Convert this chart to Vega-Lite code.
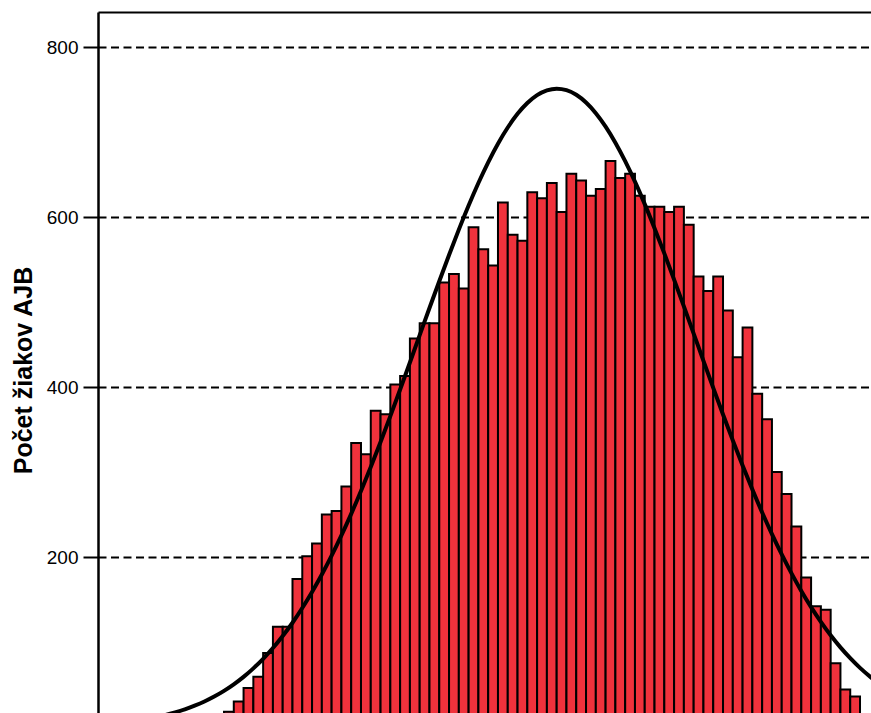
{
  "$schema": "https://vega.github.io/schema/vega-lite/v6.json",
  "width": 773,
  "height": 701,
  "autosize": {"type": "none"},
  "padding": {"left": 98, "top": 12, "right": 0, "bottom": 0},
  "background": "white",
  "config": {"view": {"stroke": null}, "font": "Liberation Sans"},
  "datasets": {
    "bars": [
      {"bin_start": 11, "bin_end": 12, "count": 6},
      {"bin_start": 12, "bin_end": 13, "count": 10},
      {"bin_start": 13, "bin_end": 14, "count": 18},
      {"bin_start": 14, "bin_end": 15, "count": 30},
      {"bin_start": 15, "bin_end": 16, "count": 46},
      {"bin_start": 16, "bin_end": 17, "count": 59},
      {"bin_start": 17, "bin_end": 18, "count": 87},
      {"bin_start": 18, "bin_end": 19, "count": 118},
      {"bin_start": 19, "bin_end": 20, "count": 118},
      {"bin_start": 20, "bin_end": 21, "count": 174},
      {"bin_start": 21, "bin_end": 22, "count": 201},
      {"bin_start": 22, "bin_end": 23, "count": 216},
      {"bin_start": 23, "bin_end": 24, "count": 250},
      {"bin_start": 24, "bin_end": 25, "count": 254},
      {"bin_start": 25, "bin_end": 26, "count": 283},
      {"bin_start": 26, "bin_end": 27, "count": 334},
      {"bin_start": 27, "bin_end": 28, "count": 321},
      {"bin_start": 28, "bin_end": 29, "count": 372},
      {"bin_start": 29, "bin_end": 30, "count": 368},
      {"bin_start": 30, "bin_end": 31, "count": 403},
      {"bin_start": 31, "bin_end": 32, "count": 413},
      {"bin_start": 32, "bin_end": 33, "count": 457},
      {"bin_start": 33, "bin_end": 34, "count": 475},
      {"bin_start": 34, "bin_end": 35, "count": 475},
      {"bin_start": 35, "bin_end": 36, "count": 523},
      {"bin_start": 36, "bin_end": 37, "count": 533},
      {"bin_start": 37, "bin_end": 38, "count": 516},
      {"bin_start": 38, "bin_end": 39, "count": 588},
      {"bin_start": 39, "bin_end": 40, "count": 562},
      {"bin_start": 40, "bin_end": 41, "count": 543},
      {"bin_start": 41, "bin_end": 42, "count": 617},
      {"bin_start": 42, "bin_end": 43, "count": 579},
      {"bin_start": 43, "bin_end": 44, "count": 572},
      {"bin_start": 44, "bin_end": 45, "count": 629},
      {"bin_start": 45, "bin_end": 46, "count": 622},
      {"bin_start": 46, "bin_end": 47, "count": 640},
      {"bin_start": 47, "bin_end": 48, "count": 606},
      {"bin_start": 48, "bin_end": 49, "count": 651},
      {"bin_start": 49, "bin_end": 50, "count": 643},
      {"bin_start": 50, "bin_end": 51, "count": 625},
      {"bin_start": 51, "bin_end": 52, "count": 633},
      {"bin_start": 52, "bin_end": 53, "count": 666},
      {"bin_start": 53, "bin_end": 54, "count": 646},
      {"bin_start": 54, "bin_end": 55, "count": 651},
      {"bin_start": 55, "bin_end": 56, "count": 625},
      {"bin_start": 56, "bin_end": 57, "count": 612},
      {"bin_start": 57, "bin_end": 58, "count": 612},
      {"bin_start": 58, "bin_end": 59, "count": 606},
      {"bin_start": 59, "bin_end": 60, "count": 612},
      {"bin_start": 60, "bin_end": 61, "count": 591},
      {"bin_start": 61, "bin_end": 62, "count": 530},
      {"bin_start": 62, "bin_end": 63, "count": 513},
      {"bin_start": 63, "bin_end": 64, "count": 530},
      {"bin_start": 64, "bin_end": 65, "count": 490},
      {"bin_start": 65, "bin_end": 66, "count": 435},
      {"bin_start": 66, "bin_end": 67, "count": 470},
      {"bin_start": 67, "bin_end": 68, "count": 392},
      {"bin_start": 68, "bin_end": 69, "count": 362},
      {"bin_start": 69, "bin_end": 70, "count": 300},
      {"bin_start": 70, "bin_end": 71, "count": 274},
      {"bin_start": 71, "bin_end": 72, "count": 236},
      {"bin_start": 72, "bin_end": 73, "count": 176},
      {"bin_start": 73, "bin_end": 74, "count": 142},
      {"bin_start": 74, "bin_end": 75, "count": 138},
      {"bin_start": 75, "bin_end": 76, "count": 75},
      {"bin_start": 76, "bin_end": 77, "count": 44},
      {"bin_start": 77, "bin_end": 78, "count": 36},
      {"bin_start": 78, "bin_end": 79, "count": 14}
    ],
    "curve": [
      {"score": 6, "expected": 11.6},
      {"score": 7, "expected": 14.1},
      {"score": 8, "expected": 17.2},
      {"score": 9, "expected": 20.8},
      {"score": 10, "expected": 25.1},
      {"score": 11, "expected": 30.0},
      {"score": 12, "expected": 35.8},
      {"score": 13, "expected": 42.5},
      {"score": 14, "expected": 50.2},
      {"score": 15, "expected": 59.0},
      {"score": 16, "expected": 69.0},
      {"score": 17, "expected": 80.3},
      {"score": 18, "expected": 92.9},
      {"score": 19, "expected": 107.1},
      {"score": 20, "expected": 122.7},
      {"score": 21, "expected": 140.0},
      {"score": 22, "expected": 158.9},
      {"score": 23, "expected": 179.4},
      {"score": 24, "expected": 201.6},
      {"score": 25, "expected": 225.4},
      {"score": 26, "expected": 250.8},
      {"score": 27, "expected": 277.7},
      {"score": 28, "expected": 305.9},
      {"score": 29, "expected": 335.4},
      {"score": 30, "expected": 365.8},
      {"score": 31, "expected": 397.1},
      {"score": 32, "expected": 428.9},
      {"score": 33, "expected": 461.0},
      {"score": 34, "expected": 493.0},
      {"score": 35, "expected": 524.5},
      {"score": 36, "expected": 555.4},
      {"score": 37, "expected": 585.2},
      {"score": 38, "expected": 613.5},
      {"score": 39, "expected": 640.0},
      {"score": 40, "expected": 664.4},
      {"score": 41, "expected": 686.3},
      {"score": 42, "expected": 705.3},
      {"score": 43, "expected": 721.4},
      {"score": 44, "expected": 734.1},
      {"score": 45, "expected": 743.4},
      {"score": 46, "expected": 749.0},
      {"score": 47, "expected": 751.0},
      {"score": 48, "expected": 749.2},
      {"score": 49, "expected": 743.8},
      {"score": 50, "expected": 734.7},
      {"score": 51, "expected": 722.2},
      {"score": 52, "expected": 706.4},
      {"score": 53, "expected": 687.5},
      {"score": 54, "expected": 665.8},
      {"score": 55, "expected": 641.6},
      {"score": 56, "expected": 615.2},
      {"score": 57, "expected": 586.9},
      {"score": 58, "expected": 557.2},
      {"score": 59, "expected": 526.4},
      {"score": 60, "expected": 494.9},
      {"score": 61, "expected": 462.9},
      {"score": 62, "expected": 430.8},
      {"score": 63, "expected": 399.0},
      {"score": 64, "expected": 367.7},
      {"score": 65, "expected": 337.2},
      {"score": 66, "expected": 307.7},
      {"score": 67, "expected": 279.4},
      {"score": 68, "expected": 252.4},
      {"score": 69, "expected": 226.9},
      {"score": 70, "expected": 203.0},
      {"score": 71, "expected": 180.7},
      {"score": 72, "expected": 160.0},
      {"score": 73, "expected": 141.0},
      {"score": 74, "expected": 123.7},
      {"score": 75, "expected": 107.9},
      {"score": 76, "expected": 93.7},
      {"score": 77, "expected": 81.0},
      {"score": 78, "expected": 69.6},
      {"score": 79, "expected": 59.6},
      {"score": 80, "expected": 50.7}
    ]
  },
  "layer": [
    {
      "data": {"name": "bars"},
      "mark": {"type": "rect", "fill": "#f0323c", "stroke": "black", "strokeWidth": 2, "clip": true},
      "encoding": {
        "x": {
          "field": "bin_start",
          "type": "quantitative",
          "scale": {"domain": [0.123, 79.123], "nice": false, "zero": false},
          "axis": {"orient": "top", "labels": false, "ticks": false, "grid": false, "title": null, "domainColor": "black", "domainWidth": 2}
        },
        "x2": {"field": "bin_end"},
        "y": {
          "field": "count",
          "type": "quantitative",
          "scale": {"domain": [16.5, 841.2], "nice": false, "zero": false},
          "axis": {
            "title": "Počet žiakov AJB",
            "values": [200, 400, 600, 800],
            "format": "d",
            "grid": true,
            "gridColor": "black",
            "gridDash": [8, 4.5],
            "gridWidth": 2,
            "domainColor": "black",
            "domainWidth": 2.5,
            "tickColor": "black",
            "tickWidth": 2,
            "tickSize": 15,
            "labelFontSize": 19,
            "labelColor": "black",
            "labelPadding": 5,
            "titleFontSize": 25,
            "titleFontWeight": "bold",
            "titleColor": "black",
            "titleAngle": -90,
            "titleX": -66.5,
            "titleY": 358,
            "titleAlign": "center",
            "titleBaseline": "alphabetic"
          }
        },
        "y2": {"datum": 0}
      }
    },
    {
      "data": {"name": "curve"},
      "mark": {"type": "line", "color": "black", "strokeWidth": 4, "interpolate": "monotone", "clip": true},
      "encoding": {
        "x": {"field": "score", "type": "quantitative", "title": null},
        "y": {"field": "expected", "type": "quantitative", "title": "Počet žiakov AJB"}
      }
    }
  ]
}
